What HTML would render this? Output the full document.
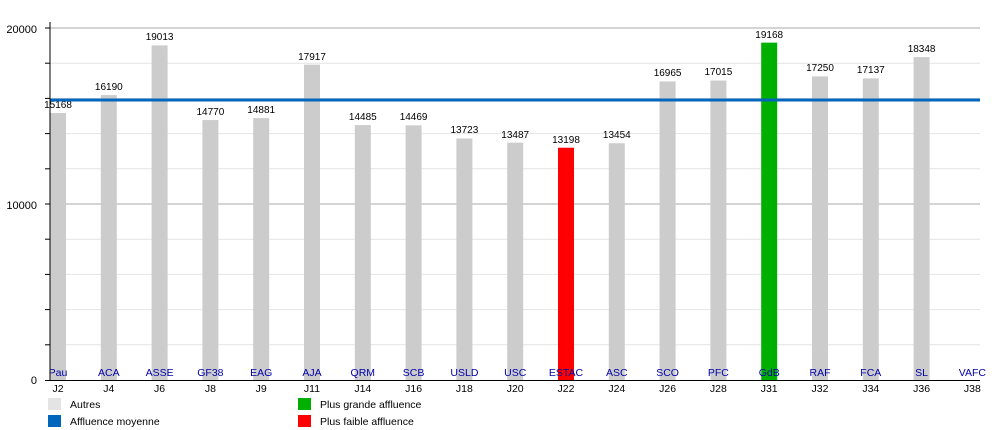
<!DOCTYPE html>
<html><head><meta charset="utf-8"><style>body{margin:0;background:#fff}svg{display:block;font-family:"Liberation Sans",sans-serif}</style></head><body>
<svg width="1000" height="430" viewBox="0 0 1000 430" xmlns="http://www.w3.org/2000/svg">
<g stroke="#e4e4e4"><line x1="50" x2="980" y1="344.8" y2="344.8"/><line x1="50" x2="980" y1="309.6" y2="309.6"/><line x1="50" x2="980" y1="274.4" y2="274.4"/><line x1="50" x2="980" y1="239.2" y2="239.2"/><line x1="50" x2="980" y1="168.8" y2="168.8"/><line x1="50" x2="980" y1="133.6" y2="133.6"/><line x1="50" x2="980" y1="98.4" y2="98.4"/><line x1="50" x2="980" y1="63.2" y2="63.2"/></g>
<g stroke="#a8a8a8"><line x1="50" x2="980" y1="204" y2="204"/><line x1="50" x2="980" y1="28" y2="28"/></g>
<g stroke="#000"><line x1="45" x2="50" y1="344.8" y2="344.8"/><line x1="45" x2="50" y1="309.6" y2="309.6"/><line x1="45" x2="50" y1="274.4" y2="274.4"/><line x1="45" x2="50" y1="239.2" y2="239.2"/><line x1="45" x2="50" y1="204" y2="204"/><line x1="45" x2="50" y1="168.8" y2="168.8"/><line x1="45" x2="50" y1="133.6" y2="133.6"/><line x1="45" x2="50" y1="98.4" y2="98.4"/><line x1="45" x2="50" y1="63.2" y2="63.2"/><line x1="45" x2="50" y1="28" y2="28"/></g>
<g font-size="11" text-anchor="end"><text x="37" y="33">20000</text><text x="37" y="209">10000</text><text x="37" y="384">0</text></g>
<g fill="#cccccc">
<rect x="50" y="113.04" width="16" height="266.96"/>
<rect x="100.8" y="95.06" width="16" height="284.94"/>
<rect x="151.6" y="45.37" width="16" height="334.63"/>
<rect x="202.4" y="120.05" width="16" height="259.95"/>
<rect x="253.2" y="118.09" width="16" height="261.91"/>
<rect x="304" y="64.66" width="16" height="315.34"/>
<rect x="354.8" y="125.06" width="16" height="254.94"/>
<rect x="405.6" y="125.35" width="16" height="254.65"/>
<rect x="456.4" y="138.48" width="16" height="241.52"/>
<rect x="507.2" y="142.63" width="16" height="237.37"/>
<rect x="608.8" y="143.21" width="16" height="236.79"/>
<rect x="659.6" y="81.42" width="16" height="298.58"/>
<rect x="710.4" y="80.54" width="16" height="299.46"/>
<rect x="812" y="76.4" width="16" height="303.6"/>
<rect x="862.8" y="78.39" width="16" height="301.61"/>
<rect x="913.6" y="57.08" width="16" height="322.92"/>
</g>
<rect x="558" y="147.72" width="16" height="232.28" fill="#ff0000"/>
<rect x="761.2" y="42.64" width="16" height="337.36" fill="#00b000"/>
<g font-size="10" text-anchor="middle">
<text x="58" y="108">15168</text><text x="108.8" y="90">16190</text><text x="159.6" y="40">19013</text><text x="210.4" y="115">14770</text><text x="261.2" y="113">14881</text><text x="312" y="60">17917</text><text x="362.8" y="120">14485</text><text x="413.6" y="120">14469</text><text x="464.4" y="133">13723</text><text x="515.2" y="138">13487</text><text x="566" y="143">13198</text><text x="616.8" y="138">13454</text><text x="667.6" y="76">16965</text><text x="718.4" y="75">17015</text><text x="769.2" y="38">19168</text><text x="820" y="71">17250</text><text x="870.8" y="73">17137</text><text x="921.6" y="52">18348</text>
</g>
<line x1="50" x2="980" y1="100" y2="100" stroke="#0066bb" stroke-width="3"/>
<g font-size="10.5" text-anchor="middle" fill="#0000aa">
<text x="58" y="376">Pau</text><text x="108.8" y="376">ACA</text><text x="159.6" y="376">ASSE</text><text x="210.4" y="376">GF38</text><text x="261.2" y="376">EAG</text><text x="312" y="376">AJA</text><text x="362.8" y="376">QRM</text><text x="413.6" y="376">SCB</text><text x="464.4" y="376">USLD</text><text x="515.2" y="376">USC</text><text x="566" y="376">ESTAC</text><text x="616.8" y="376">ASC</text><text x="667.6" y="376">SCO</text><text x="718.4" y="376">PFC</text><text x="769.2" y="376">GdB</text><text x="820" y="376">RAF</text><text x="870.8" y="376">FCA</text><text x="921.6" y="376">SL</text><text x="972.4" y="376">VAFC</text>
</g>
<g font-size="10.5" text-anchor="middle">
<text x="58" y="392">J2</text><text x="108.8" y="392">J4</text><text x="159.6" y="392">J6</text><text x="210.4" y="392">J8</text><text x="261.2" y="392">J9</text><text x="312" y="392">J11</text><text x="362.8" y="392">J14</text><text x="413.6" y="392">J16</text><text x="464.4" y="392">J18</text><text x="515.2" y="392">J20</text><text x="566" y="392">J22</text><text x="616.8" y="392">J24</text><text x="667.6" y="392">J26</text><text x="718.4" y="392">J28</text><text x="769.2" y="392">J31</text><text x="820" y="392">J32</text><text x="870.8" y="392">J34</text><text x="921.6" y="392">J36</text><text x="972.4" y="392">J38</text>
</g>
<line x1="50" x2="50" y1="22" y2="381" stroke="#000"/>
<line x1="45" x2="980" y1="380.5" y2="380.5" stroke="#000"/>
<g font-size="10.5">
<rect x="48" y="398" width="13" height="12" fill="#e4e4e4"/><text x="70" y="408">Autres</text>
<rect x="48" y="415" width="13" height="12" fill="#0066bb"/><text x="70" y="425">Affluence moyenne</text>
<rect x="298" y="398" width="13" height="12" fill="#00b000"/><text x="320" y="408">Plus grande affluence</text>
<rect x="298" y="415" width="13" height="12" fill="#ff0000"/><text x="320" y="425">Plus faible affluence</text>
</g>
</svg>
</body></html>
